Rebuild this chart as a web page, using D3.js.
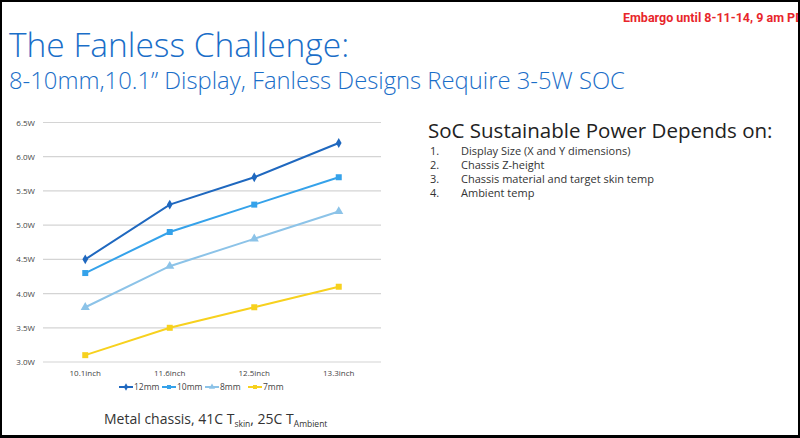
<!DOCTYPE html>
<html>
<head>
<meta charset="utf-8">
<style>
  body { margin: 0; background: white; }
  svg { font-family: "Open Sans", "Noto Sans", sans-serif; }
</style>
<script src="https://cdn.jsdelivr.net/npm/d3@7"></script>
</head>
<body>
<div id="chart"></div>
<script>
var sizes = ['10.1inch', '11.6inch', '12.5inch', '13.3inch'];
var seriesNames = ['12mm', '10mm', '8mm', '7mm'];
var mm12 = [4.5, 5.3, 5.7, 6.2];
var mm10 = [4.3, 4.9, 5.3, 5.7];
var mm8 = [3.8, 4.4, 4.8, 5.2];
var mm7 = [3.1, 3.5, 3.8, 4.1];
var yTicks = [3.0, 3.5, 4.0, 4.5, 5.0, 5.5, 6.0, 6.5];
var listItems = ['Display Size (X and Y dimensions)', 'Chassis Z-height',
  'Chassis material and target skin temp', 'Ambient temp'];

var colors = ['#1f68bf', '#35a2ea', '#8cc3e8', '#f7d11e'];
var shapes = [d3.symbolDiamond, d3.symbolSquare, d3.symbolTriangle, d3.symbolSquare];
var values = [mm12, mm10, mm8, mm7];

var W = 800, H = 438;
var svg = d3.select('#chart').append('svg')
    .attr('width', W).attr('height', H);

svg.append('rect').attr('width', W).attr('height', H).attr('fill', 'white');

// header text
svg.append('text').attr('x', 623).attr('y', 22)
    .attr('fill', '#e8262b').attr('font-weight', 'bold')
    .attr('font-family', 'Roboto').attr('font-size', 12.5)
    .text('Embargo until 8-11-14, 9 am PDT');

svg.append('text').attr('x', 9).attr('y', 57)
    .attr('fill', '#1a6ec8').attr('font-size', 33.5).attr('font-weight', 300)
    .attr('font-family', 'Open Sans')
    .text('The Fanless Challenge:');

svg.append('text').attr('x', 9).attr('y', 89)
    .attr('fill', '#1a6ec8').attr('font-size', 23.8).attr('font-weight', 300)
    .attr('font-family', 'Open Sans')
    .text('8-10mm,10.1\u201d Display, Fanless Designs Require 3-5W SOC');

// chart
var x = d3.scaleBand().domain(sizes).range([43, 381]);
var y = d3.scaleLinear().domain([3, 6.5]).range([362, 122.5]);

var grid = svg.append('g');
grid.selectAll('line').data(yTicks).enter().append('line')
    .attr('x1', 43).attr('x2', 381)
    .attr('y1', function(d) { return y(d); })
    .attr('y2', function(d) { return y(d); })
    .attr('stroke', '#d4d4d4').attr('stroke-width', 1.2);

var yAxis = svg.append('g').attr('transform', 'translate(38,0)')
    .call(d3.axisLeft(y).tickValues(yTicks).tickSize(0)
      .tickFormat(function(d) { return d3.format('.1f')(d) + 'W'; }));
yAxis.select('.domain').remove();
yAxis.selectAll('text').attr('font-size', 8).attr('fill', '#444')
    .attr('font-family', 'Open Sans');

var xAxis = svg.append('g').attr('transform', 'translate(0,367)')
    .call(d3.axisBottom(x).tickSize(0));
xAxis.select('.domain').remove();
xAxis.selectAll('text').attr('font-size', 8).attr('fill', '#444')
    .attr('font-family', 'Open Sans');

var line = d3.line()
    .x(function(d, i) { return x(sizes[i]) + x.bandwidth() / 2; })
    .y(function(d) { return y(d); });

values.forEach(function(vals, s) {
  svg.append('path').datum(vals)
      .attr('d', line)
      .attr('fill', 'none')
      .attr('stroke', colors[s])
      .attr('stroke-width', 2);
  svg.selectAll('.m' + s).data(vals).enter().append('path')
      .attr('class', 'm' + s)
      .attr('transform', function(d, i) {
        return 'translate(' + (x(sizes[i]) + x.bandwidth() / 2) + ',' + y(d) + ')';
      })
      .attr('d', d3.symbol().type(shapes[s]).size(s == 0 ? 28 : 36))
      .attr('fill', colors[s]);
});

// legend
var legX = [119, 162, 205, 248];
var leg = svg.append('g');
seriesNames.forEach(function(name, s) {
  var g = leg.append('g').attr('transform', 'translate(' + legX[s] + ',387)');
  g.append('line').attr('x1', 0).attr('x2', 14)
      .attr('stroke', colors[s]).attr('stroke-width', 2);
  g.append('path').attr('transform', 'translate(7,0)')
      .attr('d', d3.symbol().type(shapes[s]).size(16))
      .attr('fill', colors[s]);
  g.append('text').attr('x', 15).attr('y', 3)
      .attr('font-size', 8.5).attr('fill', '#444')
      .attr('font-family', 'Open Sans')
      .text(name);
});

// caption
var cap = svg.append('text').attr('x', 104).attr('y', 424)
    .attr('font-size', 14).attr('fill', '#333').attr('font-family', 'Open Sans');
cap.append('tspan').text('Metal chassis, 41C T');
cap.append('tspan').attr('font-size', 8.5).attr('dy', 3).text('skin');
cap.append('tspan').attr('dy', -3).text(', 25C T');
cap.append('tspan').attr('font-size', 8.5).attr('dy', 3).text('Ambient');

// right side text
svg.append('text').attr('x', 428).attr('y', 138)
    .attr('font-size', 20.5).attr('fill', '#222').attr('font-family', 'Open Sans')
    .text('SoC Sustainable Power Depends on:');

var list = svg.append('g');
list.selectAll('text.num').data(listItems).enter().append('text')
    .attr('class', 'num')
    .attr('x', 430).attr('y', function(d, i) { return 155 + i * 14; })
    .attr('font-size', 11).attr('fill', '#333').attr('font-family', 'Open Sans')
    .text(function(d, i) { return (i + 1) + '.'; });
list.selectAll('text.item').data(listItems).enter().append('text')
    .attr('class', 'item')
    .attr('x', 461).attr('y', function(d, i) { return 155 + i * 14; })
    .attr('font-size', 11).attr('fill', '#333').attr('font-family', 'Open Sans')
    .text(function(d) { return d; });

// frame
svg.append('rect').attr('x', 1).attr('y', 1).attr('width', W - 2).attr('height', H - 3)
    .attr('fill', 'none').attr('stroke', 'black').attr('stroke-width', 2);
svg.append('line').attr('x1', 0).attr('x2', W).attr('y1', 436.5).attr('y2', 436.5)
    .attr('stroke', 'black').attr('stroke-width', 3);
</script>
</body>
</html>
